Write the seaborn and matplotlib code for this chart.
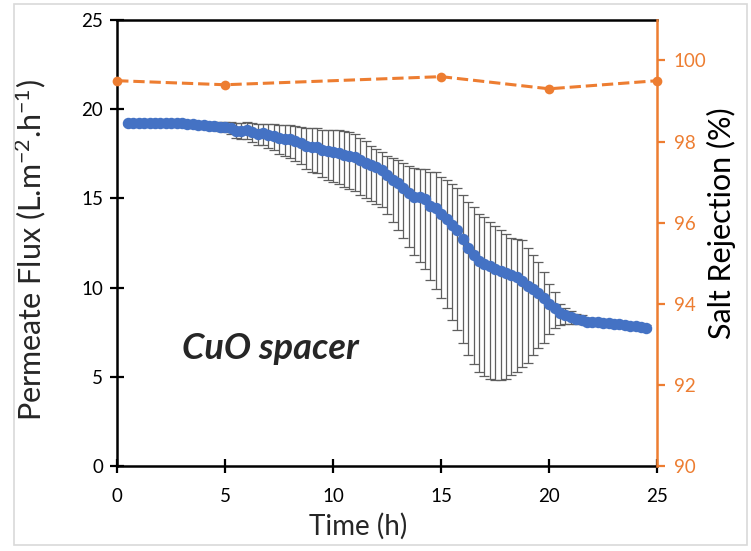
import matplotlib
matplotlib.use("Agg")
import matplotlib.pyplot as plt
import numpy as np
import pandas as pd
import seaborn as sns
from matplotlib.patches import Rectangle

# permeate flux, sampled every 15 min
time_h = np.arange(0.5, 24.51, 0.25)
flux = [
    19.2, 19.2, 19.2, 19.2, 19.2, 19.2, 19.2, 19.2, 19.2, 19.2, 19.2,
    19.15, 19.15, 19.1, 19.1, 19.05, 19.05, 19.0, 19.0, 18.95, 18.8,
    18.75, 18.85, 18.7, 18.6, 18.65, 18.55, 18.5, 18.4, 18.35, 18.3,
    18.2, 18.1, 17.95, 17.9, 17.85, 17.7, 17.65, 17.6, 17.55, 17.45,
    17.4, 17.3, 17.15, 17.0, 16.85, 16.75, 16.6, 16.3, 16.05, 15.85,
    15.6, 15.3, 15.1, 15.05, 14.95, 14.6, 14.45, 14.1, 13.85, 13.5,
    13.2, 12.7, 12.2, 11.8, 11.5, 11.35, 11.2, 11.05, 10.95, 10.8,
    10.7, 10.6, 10.35, 10.1, 9.9, 9.7, 9.4, 9.1, 8.85, 8.6,
    8.45, 8.35, 8.25, 8.2, 8.1, 8.1, 8.05, 8.0, 8.0, 7.95,
    7.95, 7.9, 7.85, 7.85, 7.8, 7.75,
]
err_up = [
    0.1, 0.1, 0.1, 0.1, 0.1, 0.1, 0.1, 0.1, 0.1, 0.1, 0.1,
    0.1, 0.1, 0.1, 0.1, 0.15, 0.2, 0.25, 0.3, 0.35, 0.4,
    0.45, 0.4, 0.5, 0.55, 0.5, 0.6, 0.65, 0.7, 0.75, 0.8,
    0.85, 0.9, 1.0, 1.05, 1.1, 1.15, 1.2, 1.25, 1.3, 1.3,
    1.3, 1.3, 1.25, 1.2, 1.1, 1.0, 1.0, 1.1, 1.2, 1.3,
    1.4, 1.5, 1.6, 1.6, 1.7, 1.9, 2.0, 2.1, 2.2, 2.3,
    2.4, 2.5, 2.6, 2.7, 2.6, 2.6, 2.5, 2.4, 2.3, 2.2,
    2.1, 2.1, 2.3, 2.1, 1.9, 1.75, 1.5, 1.1, 0.9, 0.5,
    0.4, 0.35, 0.3, 0.25, 0.2, 0.2, 0.15, 0.15, 0.15, 0.15,
    0.15, 0.15, 0.15, 0.15, 0.15, 0.15,
]
err_lo = [
    0.1, 0.1, 0.1, 0.1, 0.1, 0.1, 0.1, 0.1, 0.1, 0.1, 0.1,
    0.1, 0.1, 0.1, 0.1, 0.15, 0.2, 0.25, 0.3, 0.35, 0.4,
    0.45, 0.5, 0.55, 0.6, 0.65, 0.75, 0.8, 0.9, 1.0, 1.05,
    1.1, 1.2, 1.3, 1.4, 1.45, 1.5, 1.6, 1.7, 1.75, 1.8,
    1.85, 1.9, 1.95, 2.0, 2.0, 2.05, 2.1, 2.2, 2.4, 2.6,
    2.8, 3.0, 3.3, 3.6, 3.9, 4.2, 4.5, 4.7, 5.0, 5.3,
    5.6, 5.8, 6.0, 6.1, 6.2, 6.3, 6.3, 6.2, 6.1, 5.9,
    5.6, 5.3, 4.8, 4.3, 3.7, 3.1, 2.5, 1.7, 1.1, 0.7,
    0.5, 0.4, 0.3, 0.25, 0.2, 0.2, 0.15, 0.15, 0.15, 0.15,
    0.15, 0.15, 0.15, 0.15, 0.15, 0.15,
]

# salt rejection
rej_time = [0, 5, 15, 20, 25]
rejection = [99.5, 99.4, 99.6, 99.3, 99.5]

BLUE = "#4472C4"
ORANGE = "#ED7D31"

sns.set_style("ticks")
plt.rcParams["font.family"] = ["Lato", "DejaVu Sans"]
plt.rcParams["mathtext.fontset"] = "custom"
plt.rcParams["mathtext.rm"] = "Lato"
plt.rcParams["mathtext.it"] = "Lato:italic"

flux_df = pd.DataFrame({"time": time_h, "flux": flux})
rej_df = pd.DataFrame({"time": rej_time, "rejection": rejection})

fig = plt.figure(figsize=(7.51, 5.51), dpi=100)
ax = fig.add_axes([0.156, 0.154, 0.719, 0.810])

ax.errorbar(time_h, flux, yerr=[err_lo, err_up], fmt="none",
            ecolor="#5f5f5f", elinewidth=0.9, capsize=3.8, capthick=0.9, zorder=2)
sns.scatterplot(data=flux_df, x="time", y="flux", ax=ax, color=BLUE,
                s=68, edgecolor=BLUE, linewidth=0, zorder=3, legend=False)

ax.set_xlim(0, 25)
ax.set_ylim(0, 25)
ax.set_xticks(range(0, 26, 5))
ax.set_yticks(range(0, 26, 5))
ax.tick_params(axis="both", direction="inout", length=10, width=1.6,
               labelsize=13.5, colors="black")
ax.tick_params(axis="x", pad=11)
ax.tick_params(axis="y", pad=5)
for side in ["left", "bottom", "top"]:
    ax.spines[side].set_linewidth(1.8)
    ax.spines[side].set_color("black")
ax.spines["right"].set_visible(False)

ax.set_xlabel("Time (h)", fontsize=20)
ax.xaxis.set_label_coords(0.446, -0.105)
ax.set_ylabel("Permeate Flux (L.m$^{-2}$.h$^{-1}$)", fontsize=22)
ax.yaxis.set_label_coords(-0.128, 0.485)
ax.text(3.0, 6.6, "CuO spacer", fontsize=26, fontweight="bold",
        fontstyle="italic", va="center", ha="left")

ax2 = ax.twinx()
sns.lineplot(data=rej_df, x="time", y="rejection", ax=ax2, color=ORANGE,
             linestyle="--", linewidth=2.2, marker="o", markersize=7,
             markeredgewidth=0, clip_on=False, zorder=4)
ax2.set_ylim(90, 101)
ax2.set_yticks(range(90, 101, 2))
ax2.tick_params(axis="y", direction="out", length=6, width=1.6,
                labelsize=13.5, colors=ORANGE, pad=6)
ax2.spines["right"].set_color(ORANGE)
ax2.spines["right"].set_linewidth(1.8)
for side in ["left", "bottom", "top"]:
    ax2.spines[side].set_visible(False)
ax2.set_xlabel("")
ax2.set_ylabel("Salt Rejection (%)", fontsize=22, color="black")
ax2.yaxis.set_label_coords(1.092, 0.545)

# light frame around the whole picture
fig.patches.append(Rectangle((0.019, 0.01), 0.976, 0.982, transform=fig.transFigure,
                             fill=False, edgecolor="#d9d9d9", linewidth=1.2))

fig.savefig("out.png", dpi=100)
